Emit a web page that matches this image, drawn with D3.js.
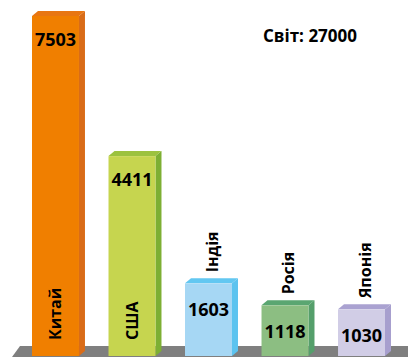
<!DOCTYPE html>
<html>
<head>
<meta charset="utf-8">
<script src="https://cdn.jsdelivr.net/npm/d3@7"></script>
<style>
  html, body { margin: 0; padding: 0; background: #fff; }
  svg { display: block; font-family: "Open Sans", "Noto Sans", sans-serif; }
</style>
</head>
<body>
<svg id="chart" width="408" height="357"></svg>
<script>
// Countries and their values
const countries = ["Китай", "США", "Індія", "Росія", "Японія"];
const values = [7503, 4411, 1603, 1118, 1030];
const worldLabel = "Світ: 27000";

// Face colours per bar: front, side, top
const frontColors = ["#f07f00", "#c6d54f", "#a6d7f4", "#8cbe82", "#d1cde6"];
const sideColors  = ["#d96c18", "#7daf33", "#5cc3ef", "#559f6b", "#a79fce"];
const topColors   = ["#e87612", "#9cc23f", "#62c7f1", "#5aa671", "#aaa2d1"];

const svg = d3.select("#chart");
const W = 408, H = 357;
const depthX = 6, depthY = 5;

const x = d3.scaleBand()
  .domain(countries)
  .range([32, 385])
  .paddingInner(0.386)
  .paddingOuter(0);

const y = d3.scaleLinear()
  .domain([0, 7503])
  .range([356, 16]);

// Floor slab
svg.append("path")
  .attr("d", `M20,346 L${W},346 L${W},${H} L12,${H} Z`)
  .attr("fill", "#7f7f7f");

const data = countries.map((c, i) => ({ c, v: values[i], i }));
const bw = x.bandwidth();

const g = svg.append("g");
const bar = g.selectAll("g.bar").data(data).join("g").attr("class", "bar");

// Side face
bar.append("path")
  .attr("d", d => {
    const x0 = x(d.c) + bw, t = y(d.v), b = y(0);
    return `M${x0},${t} L${x0 + depthX},${t - depthY} L${x0 + depthX},${b - depthY} L${x0},${b} Z`;
  })
  .attr("fill", d => sideColors[d.i]);

// Top face
bar.append("path")
  .attr("d", d => {
    const x0 = x(d.c), t = y(d.v);
    return `M${x0},${t} L${x0 + depthX},${t - depthY} L${x0 + bw + depthX},${t - depthY} L${x0 + bw},${t} Z`;
  })
  .attr("fill", d => topColors[d.i]);

// Front face
bar.append("rect")
  .attr("x", d => x(d.c))
  .attr("y", d => y(d.v))
  .attr("width", bw)
  .attr("height", d => y(0) - y(d.v))
  .attr("fill", d => frontColors[d.i]);

// Value labels
bar.append("text")
  .attr("x", d => x(d.c) + bw / 2)
  .attr("y", d => y(d.v) + (d.v > 3000 ? 30 : 33))
  .attr("text-anchor", "middle")
  .attr("font-size", 18)
  .attr("font-weight", 700)
  .attr("fill", "#000")
  .text(d => d.v);

// Country names, rotated: inside tall bars, above short ones
bar.append("text")
  .attr("transform", d => {
    const cx = x(d.c) + bw / 2 + (d.v > 3000 ? 0 : 3);
    const sy = d.v > 3000 ? 340 : y(d.v) - 11;
    return `translate(${cx + 6},${sy}) rotate(-90)`;
  })
  .attr("text-anchor", "start")
  .attr("font-size", 16)
  .attr("font-weight", 700)
  .attr("fill", "#000")
  .text(d => d.c);

// World total
svg.append("text")
  .attr("x", 263)
  .attr("y", 42)
  .attr("font-size", 17)
  .attr("font-weight", 700)
  .attr("fill", "#000")
  .text(worldLabel);
</script>
</body>
</html>
